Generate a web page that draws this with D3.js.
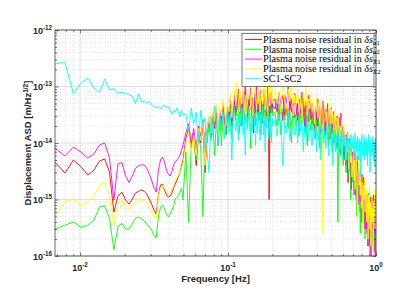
<!DOCTYPE html>
<html><head><meta charset="utf-8">
<script src="https://cdn.jsdelivr.net/npm/d3@7"></script>
<style>body{margin:0;background:#fff}svg{display:block}</style>
</head><body>
<svg id="c" width="415" height="301"></svg>
<script>
// Spectrum frequency bins: bin index k -> k*df [Hz]
const df=0.001128;
const binRanges=[[6,44,1],[46,178,2],[184,886,6]];
const freq=binRanges.flatMap(([a,b,s])=>d3.range(a,b+1,s)).map(k=>k*df);

// Plasma noise residual in δs_a1 (red)
const residA1=[4.6e-15,2.95e-15,5.0e-15,3.8e-15,2.7e-15,3.3e-15,4.8e-15,5.2e-15,3.1e-15,6.0e-16,1.15e-15,1.35e-15,9.8e-16,8.3e-16,1.02e-15,1.3e-15,1.4e-15,1.48e-15,1.4e-15,1.26e-15,1.02e-15,8.3e-16,6.5e-16,5.5e-16,1.2e-15,1.8e-15,1.87e-15,1.48e-15,1.2e-15,1.1e-15,1.15e-15,1.3e-15,1.6e-15,1.87e-15,2.2e-15,2.6e-15,3.1e-15,3.9e-15,5.0e-15,
1.2e-14,1.8e-14,8e-15,1.5e-14,4e-15,1.6e-14,1.0e-14,2.1e-14,3e-15,1.5e-14,2.3e-14,
1.3e-14,2.8e-14,1.8e-14,3.4e-14,9e-15,3.0e-14,2.0e-14,4e-14,2.5e-14,1.4e-14,3.6e-14,2.6e-14,4.8e-14,2e-14,3.2e-14,
5.5e-14,3e-14,4.5e-14,7e-14,3.2e-14,5e-14,2e-14,6.5e-14,4e-14,8.5e-14,3.6e-14,2.4e-14,5.5e-14,4.5e-14,7.5e-14,3e-14,5e-14,1.5e-14,6e-14,3.4e-14,8e-14,4e-14,2.6e-14,5e-14,7e-14,3.2e-14,4.5e-14,2.2e-14,5.5e-14,7e-14,3.6e-14,5e-14,2.8e-14,9e-14,4e-14,1.0e-15,2.5e-14,5e-14,6.5e-14,3.4e-14,4.5e-14,
4e-14,6e-14,2.5e-14,5e-14,7e-14,3e-14,4.5e-14,2e-14,6.5e-14,3.5e-14,5e-14,2.8e-14,
3.2e-14,5e-14,2e-14,4e-14,2.8e-14,6e-14,3.5e-14,1.6e-14,4.5e-14,2.4e-14,5.5e-14,3e-14,
2.2e-14,4e-14,2.6e-14,1.3e-14,3.5e-14,2e-14,4.5e-14,2.8e-14,1.6e-14,3.2e-14,2e-14,4e-14,
2.6e-14,1.4e-14,3.2e-14,1.8e-14,3.8e-14,1.2e-14,2.4e-14,3e-14,1.5e-14,2.8e-14,1e-14,2.2e-14,
1.2e-14,2.4e-14,9e-15,1.8e-14,1.3e-14,2.8e-14,7e-15,1.5e-14,2e-14,1.1e-14,1.7e-14,8e-15,
6e-15,1.2e-14,4e-15,9e-15,6.5e-15,2e-15,8e-15,4.5e-15,1.1e-14,5e-15,3e-15,7e-15,
2.5e-15,5e-15,1.5e-15,4e-15,2.2e-15,6e-15,1e-15,3e-15,4.5e-15,1.8e-15,3.5e-15,1.2e-15,
1.6e-15,6e-16,2.2e-15,1.1e-15,2.8e-15,5e-16,1.4e-15,2e-15,8e-16,1.6e-15,4e-16,1.2e-15,
5e-16,1e-15,2.5e-16,7e-16,1.3e-15,4e-16,9e-16,1.5e-16,6e-16,1.1e-15,3e-16,8e-16,
4e-16,1e-15,2e-16,6e-16,1.2e-15,3e-16,8e-16,1.2e-16,7e-16,5e-16];

// Plasma noise residual in δs_a2 (green)
const residA2=[3.0e-16,3.5e-16,4.0e-16,3.2e-16,3.5e-16,4.3e-16,7.4e-16,7.7e-16,4.7e-16,1.28e-16,3.3e-16,3.8e-16,3.0e-16,3.0e-16,3.7e-16,4.7e-16,4.9e-16,4.5e-16,4.2e-16,3.7e-16,3.2e-16,2.9e-16,2.25e-16,2.1e-16,4.9e-16,7.4e-16,8.0e-16,6.8e-16,5.5e-16,4.9e-16,5.5e-16,6.3e-16,7.7e-16,1.02e-15,1.1e-15,1.2e-15,1.35e-15,1.6e-15,9.8e-16,
7e-15,4e-16,9e-15,1.2e-14,5e-15,1.4e-14,8e-15,5e-16,1.6e-14,1.0e-14,2e-14,
1.1e-14,2.4e-14,6e-15,2.8e-14,1.6e-14,3.2e-14,9e-15,2.6e-14,3.6e-14,1.4e-14,3e-14,2e-14,4e-14,1.2e-14,3.4e-14,
4.5e-14,2.5e-14,6e-14,3.5e-14,1.5e-14,5e-14,3e-14,7e-14,2.2e-14,4.5e-14,6e-14,1.8e-14,5e-14,3.5e-14,8e-15,4.2e-14,6.5e-14,2.8e-14,4.5e-14,2e-14,5.5e-14,3.8e-14,7e-14,2.5e-14,4e-14,1.4e-14,5.5e-14,3.2e-14,6e-14,4.5e-14,2e-14,5e-14,3.5e-14,7e-14,2.6e-14,4.8e-14,1.2e-14,5.5e-14,3.8e-14,6e-14,3e-14,
3.5e-14,2e-14,5e-14,1.4e-14,4e-14,2.5e-14,6e-14,1.8e-14,3.5e-14,1e-14,4.5e-14,2.8e-14,
2e-14,4e-14,1.3e-14,3.2e-14,2.2e-14,5e-14,1.5e-14,3e-14,9e-15,3.8e-14,2.4e-14,1.6e-14,
3e-14,1.6e-14,3.6e-14,1.2e-14,2.6e-14,4e-14,1.8e-14,8e-15,2.8e-14,1.5e-14,3.2e-14,2e-14,
1.3e-14,2.8e-14,1.6e-14,3.4e-14,9e-15,2.2e-14,1.4e-14,2.6e-14,7e-15,1.8e-14,2.4e-14,1.1e-14,
1.8e-14,8e-15,1.5e-14,4e-16,1.2e-14,2e-14,6e-15,1.4e-14,9e-15,1.7e-14,4e-15,1e-14,
5e-15,9e-15,3e-15,7e-15,1.1e-14,2.5e-15,6e-15,4e-15,8e-15,1e-15,5e-15,3.5e-15,
2e-15,4e-15,1.2e-15,3e-15,5e-15,1.5e-15,2.5e-15,5e-16,3.5e-15,1.8e-15,2.8e-15,1e-15,
1.5e-15,2.5e-16,1.1e-15,2e-15,7e-16,1.4e-15,4e-16,1.8e-15,9e-16,1.2e-15,2e-16,8e-16,
1.1e-15,4e-16,7e-16,1.5e-16,9e-16,1.3e-15,3e-16,6e-16,1.1e-16,8e-16,4e-16,1e-15,
3e-16,7e-16,1.5e-16,9e-16,4e-16,1.1e-15,2e-16,6e-16,9e-17,5e-16];

// Plasma noise residual in δs_X1 (magenta)
const residX1=[8.1e-15,5.9e-15,8.5e-15,6.9e-15,5.4e-15,6.4e-15,9.2e-15,1.0e-14,5.5e-15,9.8e-16,4.3e-15,4.5e-15,2.6e-15,2.0e-15,2.6e-15,3.6e-15,3.9e-15,4.1e-15,4.1e-15,3.6e-15,2.8e-15,2.2e-15,1.6e-15,1.35e-15,3.3e-15,5.0e-15,5.6e-15,4.6e-15,3.3e-15,2.8e-15,2.6e-15,3.1e-15,4.1e-15,4.6e-15,5.0e-15,5.4e-15,6.1e-15,7.5e-15,9.2e-15,
1.5e-14,2.2e-14,1.0e-14,1.8e-14,8e-15,2.0e-14,1.3e-14,2.6e-14,5e-15,1.9e-14,2.8e-14,
1.6e-14,3.5e-14,2.2e-14,4.2e-14,1.2e-14,3.8e-14,2.6e-14,5e-14,3e-14,1.8e-14,4.5e-14,3.2e-14,6e-14,2.4e-14,4e-14,
7e-14,3.5e-14,5.5e-14,9e-14,4e-14,6.5e-14,2.5e-14,8e-14,5e-14,1.1e-13,4.5e-14,3e-14,7e-14,5.5e-14,9.5e-14,3.8e-14,6e-14,2e-14,7.5e-14,4.2e-14,1.0e-13,5e-14,3.2e-14,6.5e-14,8.5e-14,4e-14,5.5e-14,2.8e-14,7e-14,9e-14,4.5e-14,6e-14,3.5e-14,1.1e-13,5e-14,7.5e-14,3e-14,6e-14,8e-14,4.2e-14,5.5e-14,
6e-14,3.5e-14,8e-14,4.5e-14,2.5e-14,7e-14,5e-14,1.0e-13,3.8e-14,6e-14,2.8e-14,7.5e-14,
4.5e-14,2.5e-14,6e-14,3.5e-14,8e-14,4e-14,2e-14,5.5e-14,3e-14,7e-14,4.2e-14,2.6e-14,
5e-14,3e-14,1.8e-14,4.5e-14,2.6e-14,6e-14,3.5e-14,1.5e-14,4e-14,2.2e-14,5.5e-14,3e-14,
1.6e-14,4e-14,2.4e-14,5e-14,2e-14,3.2e-14,1.2e-14,4.2e-14,2.6e-14,1.8e-14,3.6e-14,2.2e-14,
2.6e-14,1.3e-14,3e-14,1.7e-14,8e-15,2.2e-14,1.4e-14,3.4e-14,1e-14,1.9e-14,6e-15,1.6e-14,
1.1e-14,5e-15,1.4e-14,7e-15,3e-15,9e-15,5.5e-15,1.2e-14,4e-15,8e-15,1.5e-15,6e-15,
5e-15,2.5e-15,7e-15,3.5e-15,1.2e-15,4.5e-15,2e-15,6e-15,2.8e-15,8e-16,3.5e-15,2e-15,
2.2e-15,9e-16,3e-15,1.4e-15,4e-16,1.8e-15,1e-15,2.5e-15,6e-16,1.5e-15,3e-16,1.2e-15,
8e-16,3e-16,1.2e-15,5e-16,1.5e-16,9e-16,4e-16,1.4e-15,2e-16,7e-16,1e-16,6e-16,
9e-16,3e-16,1.1e-15,4e-16,8e-17,7e-16,2.5e-16,1.2e-15,3.5e-16,6e-16];

// Plasma noise residual in δs_X2 (yellow)
const residX2=[5.1e-16,9.1e-16,1.02e-15,7.7e-16,9.1e-16,1.15e-15,1.8e-15,1.96e-15,1.2e-15,3.5e-16,8.7e-16,9.8e-16,7.4e-16,6.5e-16,7.7e-16,9.1e-16,9.8e-16,9.8e-16,9.4e-16,8.7e-16,7.4e-16,6.3e-16,5.1e-16,4.5e-16,1.15e-15,1.6e-15,1.8e-15,1.6e-15,1.35e-15,1.26e-15,1.35e-15,1.54e-15,1.73e-15,2.2e-15,2.4e-15,2.7e-15,3.1e-15,3.6e-15,4.3e-15,
1.0e-14,1.6e-14,7e-15,1.4e-14,6e-15,1.8e-14,1.1e-14,2.4e-14,4e-15,1.7e-14,3e-14,
1.5e-14,3.8e-14,2.4e-14,4.8e-14,1.3e-14,4.2e-14,3e-14,6e-14,3.5e-14,2e-14,5.5e-14,3.6e-14,7.5e-14,2.8e-14,5e-14,
9e-14,4.5e-14,1.2e-13,6e-14,3.5e-14,8e-14,5e-14,1.3e-13,4e-14,7e-14,2.8e-14,9e-14,6e-14,1.1e-13,4.5e-14,7.5e-14,3e-14,5.5e-14,1.0e-13,6.5e-14,4e-14,8.5e-14,5e-14,1.2e-13,3.5e-14,7e-14,9.5e-14,4.8e-14,6e-14,1.1e-13,3.8e-14,8e-14,5.5e-14,2.5e-14,1.0e-13,6.5e-14,4.5e-14,1.25e-13,7e-14,5e-14,9e-14,
1.1e-13,5e-14,8e-14,3.5e-14,1.25e-13,6e-14,4e-14,9e-14,5.5e-14,1.2e-13,3e-14,7e-14,
5e-14,9e-14,3.5e-14,6.5e-14,2.5e-14,8e-14,4.5e-14,1e-13,3e-14,6e-14,4e-14,7.5e-14,
3.5e-14,5.5e-14,2.2e-14,4.5e-14,6.5e-14,2.8e-14,5e-14,1.8e-14,4e-14,6e-14,2.5e-16,3.8e-14,
4.5e-14,2.4e-14,3.5e-14,1.5e-14,5e-14,2.8e-14,1.8e-14,4e-14,2.2e-14,3.2e-14,1.2e-14,3.8e-14,
2.2e-14,1.2e-14,2.8e-14,1.5e-14,3.2e-14,9e-15,2e-14,1.3e-14,2.6e-14,5e-15,1.6e-14,2.2e-14,
9e-15,1.3e-14,5e-15,1e-14,7e-15,1.5e-14,3.5e-15,8e-15,1.1e-14,4.5e-15,7e-15,2.5e-15,
4e-15,6e-15,2.2e-15,5e-15,1.5e-15,3.5e-15,6.5e-15,2.5e-15,4e-16,3e-15,4.5e-15,1.8e-15,
2.5e-15,1.2e-15,3.2e-15,7e-16,2e-15,1.4e-15,3e-16,1.8e-15,1e-15,2.4e-15,6e-16,1.5e-15,
1e-15,4e-16,1.5e-15,7e-16,2e-16,1.2e-15,5e-16,1.8e-15,3e-16,9e-16,1.5e-16,6e-16,
1.2e-15,4e-16,7e-16,1e-16,1e-15,5e-16,1.5e-15,3e-16,8e-16,6e-16];

// SC1-SC2 (cyan)
const sc1sc2=[2.5e-13,2.7e-13,7.4e-14,1.15e-13,1.4e-13,9.3e-14,7.9e-14,1.35e-13,8.7e-14,9.1e-14,7.6e-14,7.9e-14,7.6e-14,7.1e-14,6.8e-14,4.9e-14,7.4e-14,5.4e-14,5.4e-14,5.1e-14,5.4e-14,4.7e-14,4.4e-14,4.2e-14,4.4e-14,4.0e-14,4.5e-14,4.7e-14,4.2e-14,4.4e-14,3.7e-14,3.2e-14,3.8e-14,3.5e-14,4.2e-14,3.4e-14,2.9e-14,3.8e-14,3.2e-14,
3.2e-14,1.6e-14,4.2e-14,2.2e-14,3.5e-14,1.0e-14,3.8e-14,2.0e-14,2.8e-14,7e-15,3e-15,
3.0e-14,1.4e-14,4.5e-14,2.2e-14,9e-15,2.8e-14,1.7e-14,3.6e-14,1.2e-14,2.6e-14,4.0e-14,1.5e-14,3.2e-14,5e-15,2.4e-14,
3.8e-14,1.6e-14,2.8e-14,1.1e-14,3.4e-14,2e-14,4.2e-14,1.4e-14,2.6e-14,6e-15,3.2e-14,1.8e-14,3.8e-14,2.2e-14,1.2e-14,3e-14,1.6e-14,4e-14,2.4e-14,9e-15,2.8e-14,1.5e-14,3.5e-14,2e-14,1.1e-14,3.2e-14,2.2e-14,4.5e-14,1.4e-14,2.6e-14,7e-15,3e-14,1.8e-14,3.6e-14,1.2e-14,2.4e-14,1.6e-14,3.4e-14,1.0e-14,2.8e-14,2e-14,
2.6e-14,1.3e-14,3.2e-14,1.8e-14,4e-15,2.4e-14,1.5e-14,3.5e-14,1.1e-14,2.2e-14,2.8e-14,1.4e-14,
2.2e-14,1e-14,3e-14,1.6e-14,2.4e-14,7e-15,2e-14,1.3e-14,2.8e-14,1.1e-14,2.2e-14,1.7e-14,
9e-15,2e-14,1.2e-14,2.5e-14,7e-15,1.6e-14,1.1e-14,2.2e-14,5e-15,1.5e-14,1.9e-14,1e-14,
1.6e-14,8e-15,2e-14,1.1e-14,6e-15,1.5e-14,2.2e-14,9e-15,1.3e-14,4e-15,1.7e-14,1.1e-14,
7e-15,1.4e-14,1e-14,1.9e-14,6e-15,1.2e-14,8e-15,1.6e-14,1.1e-14,5e-15,1.5e-14,9e-15,
1.3e-14,7e-15,1.1e-14,5e-15,1.6e-14,8e-15,1.2e-14,3e-15,1e-14,1.4e-14,6e-15,1.1e-14,
8e-15,1.3e-14,6e-15,1e-14,1.5e-14,4.5e-15,1.1e-14,7e-15,1.3e-14,9e-15,5e-15,1.2e-14,
7e-15,1.1e-14,2.5e-15,9e-15,1.4e-14,6e-15,1e-14,8e-15,1.3e-14,5e-15,1.1e-14,7e-15,
1.2e-14,6e-15,1e-14,4e-15,9e-15,1.4e-14,7e-15,1.1e-14,3e-15,8e-15,1.2e-14,6e-15,
1e-14,7e-15,1.3e-14,5e-15,9e-15,1.1e-14,4e-15,8e-15,1.2e-14,7e-15];

const seriesList=[residA1,residA2,residX1,residX2,sc1sc2];
const seriesColors=["#ff0000","#00ff00","#ff00ff","#ffff00","#00ffff"];
const legendSubs=["a1","a2","X1","X2",null];
const xTickVals=[0.01,0.1,1];
const xTickExp=["-2","-1","0"];
const yTickVals=[1e-16,1e-15,1e-14,1e-13,1e-12];
const yTickExp=["-16","-15","-14","-13","-12"];

const L=55,R=376,T=30,B=256;
const svg=d3.select("#c");
const x=d3.scaleLog().domain([0.00677,1]).range([L,R]);
const y=d3.scaleLog().domain([1e-16,1e-12]).range([B,T]);

const isMajor=v=>Math.abs(Math.log10(v)-Math.round(Math.log10(v)))<1e-6;
const xAll=x.ticks().filter(v=>v>=0.00677&&v<=1);
const yAll=y.ticks();
const xMinor=xAll.filter(v=>!isMajor(v)), yMinor=yAll.filter(v=>!isMajor(v));

// grid
const g=svg.append("g");
g.selectAll(".xm").data(xMinor).join("line").attr("x1",d=>x(d)).attr("x2",d=>x(d)).attr("y1",T).attr("y2",B)
 .attr("stroke","#cfcfcf").attr("stroke-width",0.6).attr("stroke-dasharray","1,1.5");
g.selectAll(".ym").data(yMinor).join("line").attr("y1",d=>y(d)).attr("y2",d=>y(d)).attr("x1",L).attr("x2",R)
 .attr("stroke","#cfcfcf").attr("stroke-width",0.6).attr("stroke-dasharray","1,1.5");
g.selectAll(".xM").data(xTickVals).join("line").attr("x1",d=>x(d)).attr("x2",d=>x(d)).attr("y1",T).attr("y2",B)
 .attr("stroke","#d8d8d8").attr("stroke-width",0.8);
g.selectAll(".yM").data(yTickVals).join("line").attr("y1",d=>y(d)).attr("y2",d=>y(d)).attr("x1",L).attr("x2",R)
 .attr("stroke","#d8d8d8").attr("stroke-width",0.8);

// lines
svg.append("clipPath").attr("id","clip").append("rect").attr("x",L).attr("y",T).attr("width",R-L).attr("height",B-T);
const line=d3.line().x((d,i)=>x(freq[i])).y(d=>y(d));
const lg=svg.append("g").attr("clip-path","url(#clip)");
seriesList.forEach((s,k)=>{
  lg.append("path").datum(s).attr("d",line).attr("fill","none").attr("stroke",seriesColors[k]).attr("stroke-width",0.9).attr("stroke-linejoin","round");
});

// axes (ticks inward)
const ax=(gen,tx,ty)=>svg.append("g").attr("transform",`translate(${tx},${ty})`).call(gen);
const styleAx=sel=>{sel.select(".domain").remove();sel.selectAll("line").attr("stroke","#262626").attr("stroke-width",0.6);sel.selectAll("text").remove();};
styleAx(ax(d3.axisBottom(x).tickValues(xTickVals).tickSize(-3.5),0,B));
styleAx(ax(d3.axisBottom(x).tickValues(xMinor).tickSize(-2),0,B));
styleAx(ax(d3.axisTop(x).tickValues(xTickVals).tickSize(-3.5),0,T));
styleAx(ax(d3.axisTop(x).tickValues(xMinor).tickSize(-2),0,T));
styleAx(ax(d3.axisLeft(y).tickValues(yTickVals).tickSize(-3.5),L,0));
styleAx(ax(d3.axisLeft(y).tickValues(yMinor).tickSize(-2),L,0));
styleAx(ax(d3.axisRight(y).tickValues(yTickVals).tickSize(-3.5),R,0));
styleAx(ax(d3.axisRight(y).tickValues(yMinor).tickSize(-2),R,0));
svg.append("rect").attr("x",L).attr("y",T).attr("width",R-L).attr("height",B-T).attr("fill","none").attr("stroke","#262626").attr("stroke-width",0.7);

// tick labels
const font="'Liberation Sans',Arial,sans-serif";
xTickVals.forEach((v,i)=>{
  const t=svg.append("text").attr("x",x(v)).attr("y",B+15).attr("text-anchor","middle").attr("font-family",font).attr("font-size",9).attr("font-weight","bold").attr("fill","#262626");
  t.append("tspan").text("10");
  t.append("tspan").attr("dy",-4).attr("font-size",6.3).text(xTickExp[i]);
});
yTickVals.forEach((v,i)=>{
  const t=svg.append("text").attr("x",L-3).attr("y",y(v)+3.5).attr("text-anchor","end").attr("font-family",font).attr("font-size",9).attr("font-weight","bold").attr("fill","#262626");
  t.append("tspan").text("10");
  t.append("tspan").attr("dy",-4).attr("font-size",6.3).text(yTickExp[i]);
});
// axis labels
svg.append("text").attr("x",(L+R)/2).attr("y",B+26).attr("text-anchor","middle").attr("font-family",font).attr("font-size",9.5).attr("font-weight","bold").attr("fill","#262626").text("Frequency [Hz]");
const yl=svg.append("text").attr("transform",`translate(31,${(T+B)/2}) rotate(-90)`).attr("text-anchor","middle").attr("font-family",font).attr("font-size",9.5).attr("font-weight","bold").attr("fill","#262626");
yl.append("tspan").text("Displacement ASD [m/Hz");
yl.append("tspan").attr("dy",-3.5).attr("font-size",6.5).text("1/2");
yl.append("tspan").attr("dy",3.5).text("]");

// legend
const lgX0=242,lgY0=33.5,lgW=132,lgH=53;
const leg=svg.append("g");
leg.append("rect").attr("x",lgX0).attr("y",lgY0).attr("width",lgW).attr("height",lgH).attr("fill","#fff").attr("stroke","#262626").attr("stroke-width",0.6);
const serif="'Liberation Serif','Times New Roman',serif";
legendSubs.forEach((sub,i)=>{
  const yy=lgY0+6+i*9.8;
  leg.append("line").attr("x1",lgX0+3).attr("x2",lgX0+20).attr("y1",yy).attr("y2",yy).attr("stroke",seriesColors[i]).attr("stroke-width",0.9);
  const t=leg.append("text").attr("x",lgX0+21).attr("y",yy+3.2).attr("font-family",serif).attr("font-size",10.2).attr("fill","#000");
  if(sub){
    t.append("tspan").text("Plasma noise residual in ");
    t.append("tspan").attr("font-style","italic").text("δs");
    t.append("tspan").attr("dy",1.8).attr("font-size",6.8).attr("font-style","italic").text(sub[0]);
    t.append("tspan").attr("font-size",6.8).text(sub.slice(1));
  } else {
    t.append("tspan").text("SC1-SC2");
  }
});
</script>
</body></html>
